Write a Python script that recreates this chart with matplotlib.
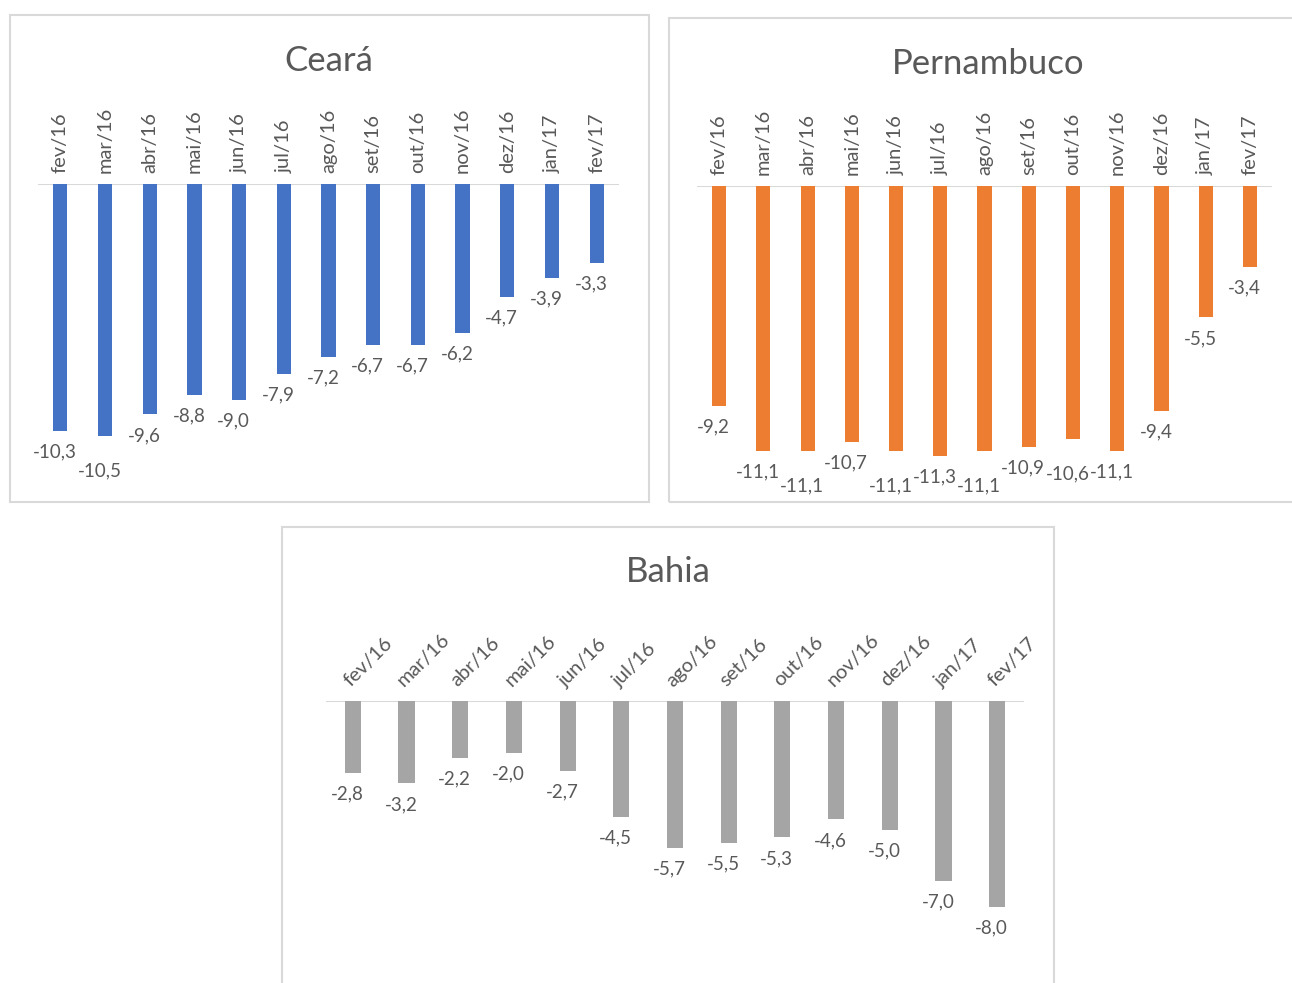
import matplotlib
matplotlib.use("Agg")
import matplotlib.pyplot as plt
from matplotlib.patches import Rectangle

months = ["fev/16", "mar/16", "abr/16", "mai/16", "jun/16", "jul/16", "ago/16",
          "set/16", "out/16", "nov/16", "dez/16", "jan/17", "fev/17"]
ceara = [-10.3, -10.5, -9.6, -8.8, -9.0, -7.9, -7.2, -6.7, -6.7, -6.2, -4.7, -3.9, -3.3]
pernambuco = [-9.2, -11.1, -11.1, -10.7, -11.1, -11.3, -11.1, -10.9, -10.6, -11.1, -9.4, -5.5, -3.4]
bahia = [-2.8, -3.2, -2.2, -2.0, -2.7, -4.5, -5.7, -5.5, -5.3, -4.6, -5.0, -7.0, -8.0]

plt.rcParams['font.family'] = ['Lato', 'DejaVu Sans']
W, H = 1292, 983
txt = "#595959"
grid = "#D9D9D9"

fig = plt.figure(figsize=(W / 100, H / 100), dpi=100)


def box(x0, y0, x1, y1):
    # pixel coords (top-left origin) -> figure rectangle
    fig.patches.append(Rectangle((x0 / W, 1 - y1 / H), (x1 - x0) / W, (y1 - y0) / H,
                                 transform=fig.transFigure, fill=False,
                                 edgecolor=grid, linewidth=1.5))


def panel(x0, x1, ytop, ybot, ymin, values, color, title, tx, ty, rot, width):
    ax = fig.add_axes([x0 / W, 1 - ybot / H, (x1 - x0) / W, (ybot - ytop) / H])
    xs = range(len(values))
    ax.bar(xs, values, width=width, color=color, zorder=2)
    ax.set_xlim(-0.5, len(values) - 0.5)
    ax.set_ylim(ymin, 0)
    ax.axhline(0, color=grid, linewidth=1.5, zorder=1)
    for s in ax.spines.values():
        s.set_visible(False)
    ax.set_yticks([])
    ax.set_xticks(list(xs))
    ax.xaxis.tick_top()
    ax.tick_params(axis='x', length=0, pad=8, labelsize=14.5, labelcolor=txt)
    if rot == 90:
        ax.set_xticklabels(months, rotation=90, ha='center', va='bottom')
    else:
        ax.set_xticklabels(months, rotation=45, ha='left', va='bottom',
                           rotation_mode='anchor')
    # labels below bar ends; push down one of two neighbours at the same depth
    pushed = False
    for i, v in enumerate(values):
        drop = 0
        if i > 0 and abs(v - values[i - 1]) < 0.45 and v < -9.9 and not pushed:
            drop = 10
            pushed = True
        else:
            pushed = False
        ax.annotate(f"{v:.1f}".replace(".", ","), (i, v), xytext=(-4, -9 - drop),
                    textcoords='offset points', ha='center', va='top',
                    fontsize=13.5, color=txt, annotation_clip=False)
    fig.text(tx / W, 1 - ty / H, title, ha='center', va='center',
             fontsize=25, color=txt)
    return ax


box(10, 15, 649, 502)
box(669, 18, 1300, 502)
box(282, 527, 1054, 1000)

panel(38, 619, 184, 490, -12.75, ceara, "#4472C4", "Ceará", 329, 61, 90, 0.32)
panel(697, 1272, 186, 490, -12.72, pernambuco, "#ED7D31", "Pernambuco", 988, 64, 90, 0.32)
panel(326, 1024, 701, 983, -10.95, bahia, "#A5A5A5", "Bahia", 668, 572, 45, 0.30)

fig.savefig("out.png", dpi=100)
